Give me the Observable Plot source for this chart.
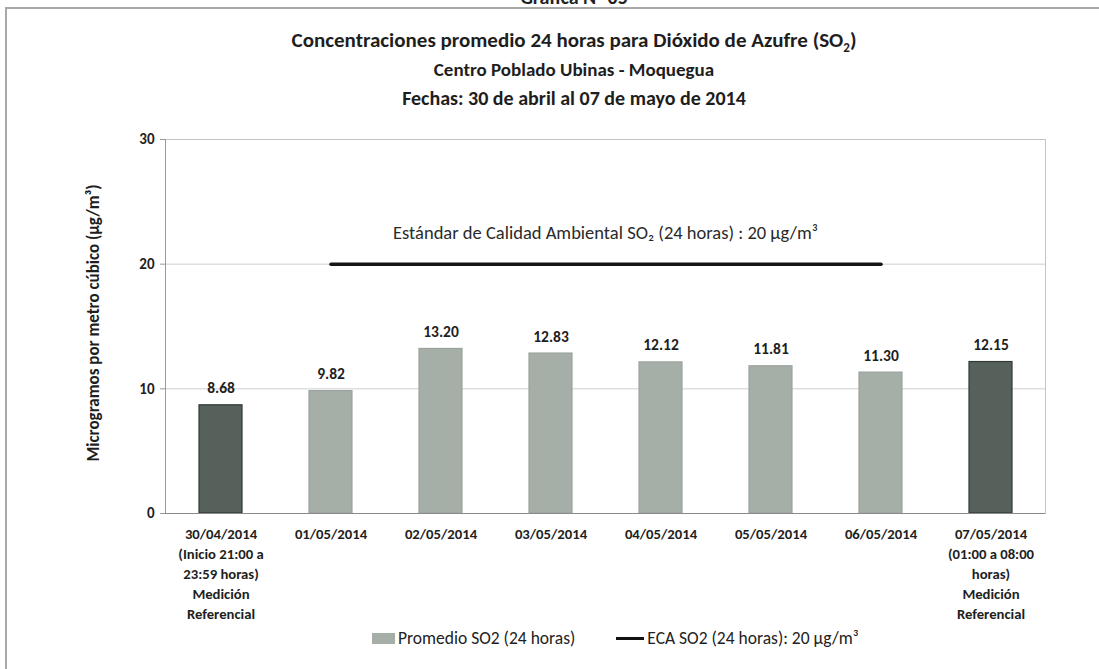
<!DOCTYPE html>
<html>
<head>
<meta charset="utf-8">
<script src="https://cdn.jsdelivr.net/npm/d3@7"></script>
<script src="https://cdn.jsdelivr.net/npm/@observablehq/plot@0.6"></script>
<style>
  html, body { margin: 0; padding: 0; background: #fff; }
  body { width: 1099px; height: 669px; overflow: hidden; position: relative;
         font-family: Carlito, "Liberation Sans Narrow", "Open Sans", sans-serif; color: #222; }
  #frame { position: absolute; left: 5px; top: 7px; width: 1200px; height: 800px;
           border-left: 2px solid #a8a8a8; border-top: 2px solid #a8a8a8; }
  #top { position: absolute; left: 374px; width: 400px; top: -15px; text-align: center;
         font-weight: bold; font-size: 20px; color: #222; }
  .title { position: absolute; left: 174px; width: 800px; text-align: center;
           font-weight: bold; font-size: 20px; color: #1e1e1e; line-height: 24px; }
  #chart { position: absolute; left: 0; top: 0; }
  #ylab { position: absolute; left: 93px; top: 323px; transform: translate(-50%, -50%) rotate(-90deg);
          white-space: nowrap; font-weight: bold; font-size: 17px; color: #1e1e1e; }
  #legend { position: absolute; top: 627px; left: 372px; font-size: 17.5px; color: #222;
            display: flex; align-items: center; white-space: nowrap; line-height: 22px; }
  .sw-bar { display: inline-block; width: 23px; height: 11px; background: #a6aea8; margin-right: 3px; }
  .sw-line { display: inline-block; width: 28px; height: 3px; background: #111; margin-left: 41px; margin-right: 3px; }
  .eca { display: inline-block; }
</style>
</head>
<body>
<div id="frame"></div>
<div id="top">Gráfica N° 05</div>
<div class="title" style="top:28px;font-size:21px">Concentraciones promedio 24 horas para Dióxido de Azufre (SO<sub style="font-size:13px;line-height:0">2</sub>)</div>
<div class="title" style="top:58px;font-size:19px">Centro Poblado Ubinas - Moquegua</div>
<div class="title" style="top:86px">Fechas: 30 de abril al 07 de mayo de 2014</div>
<div id="chart"></div>
<div id="ylab">Microgramos por metro cúbico (µg/m³)</div>
<div id="legend"><span class="sw-bar"></span>Promedio SO2 (24 horas)<span class="sw-line"></span><span class="eca">ECA SO2 (24 horas): 20 µg/m³</span></div>
<script>
const categories = ["30/04/2014","01/05/2014","02/05/2014","03/05/2014","04/05/2014","05/05/2014","06/05/2014","07/05/2014"];
const tickLabels = [
  "30/04/2014\n(Inicio 21:00 a\n23:59 horas)\nMedición\nReferencial",
  "01/05/2014","02/05/2014","03/05/2014","04/05/2014","05/05/2014","06/05/2014",
  "07/05/2014\n(01:00 a 08:00\nhoras)\nMedición\nReferencial"
];
const values = [8.68, 9.82, 13.20, 12.83, 12.12, 11.81, 11.30, 12.15];
const kinds = ["ref","prom","prom","prom","prom","prom","prom","ref"];
const ecaValue = 20;
const ecaDates = ["01/05/2014","02/05/2014","03/05/2014","04/05/2014","05/05/2014","06/05/2014"];
const yTicks = [0, 10, 20, 30];
const annotation = "Estándar de Calidad Ambiental SO₂ (24 horas) : 20 µg/m³";

const data = categories.map((c, i) => ({date: c, value: values[i], kind: kinds[i]}));
const labelOf = new Map(categories.map((c, i) => [c, tickLabels[i]]));
const fillOf = {prom: "#a6aea8", ref: "#55615a"};
const strokeOf = {prom: "#9aa39c", ref: "#2f3a33"};
const FONT = 'Carlito, "Liberation Sans Narrow", "Open Sans", sans-serif';

const chart = Plot.plot({
  width: 1099,
  height: 669,
  marginTop: 139,
  marginBottom: 156,
  marginLeft: 165,
  marginRight: 54,
  style: {fontFamily: FONT, background: "transparent", color: "#1e1e1e"},
  x: {domain: categories, paddingInner: 0.61, paddingOuter: 0.305, label: null},
  y: {domain: [0, 30], label: null},
  marks: [
    Plot.gridY(yTicks.slice(1), {stroke: "#cfcfcf", strokeOpacity: 1}),
    Plot.frame({stroke: "#c4c4c4"}),
    Plot.frame({anchor: "left", stroke: "#9a9a9a"}),
    Plot.barY(data, {x: "date", y: "value", fill: d => fillOf[d.kind], stroke: d => strokeOf[d.kind], strokeWidth: 1.2}),
    Plot.ruleY([0], {stroke: "#8a8a8a"}),
    Plot.axisY({ticks: yTicks, tickSize: 5, tickPadding: 6, fontSize: 15, fontWeight: "bold", stroke: "#999", label: null}),
    Plot.axisX({tickSize: 0, tickPadding: 11, fontSize: 14.7, fontWeight: "bold", lineHeight: 1.36,
                tickFormat: d => labelOf.get(d), label: null}),
    Plot.lineY(ecaDates, {x: d => d, y: () => ecaValue, stroke: "#161616", strokeWidth: 3.5}),
    Plot.text(data, {x: "date", y: "value", text: d => d.value.toFixed(2), dy: -17, fontSize: 15.5, fontWeight: "bold", fill: "#1e1e1e"}),
    Plot.text([annotation], {frameAnchor: "top", dy: 86, fontSize: 18.5, fill: "#2a2a2a"})
  ]
});
document.getElementById("chart").appendChild(chart);
</script>
</body>
</html>
